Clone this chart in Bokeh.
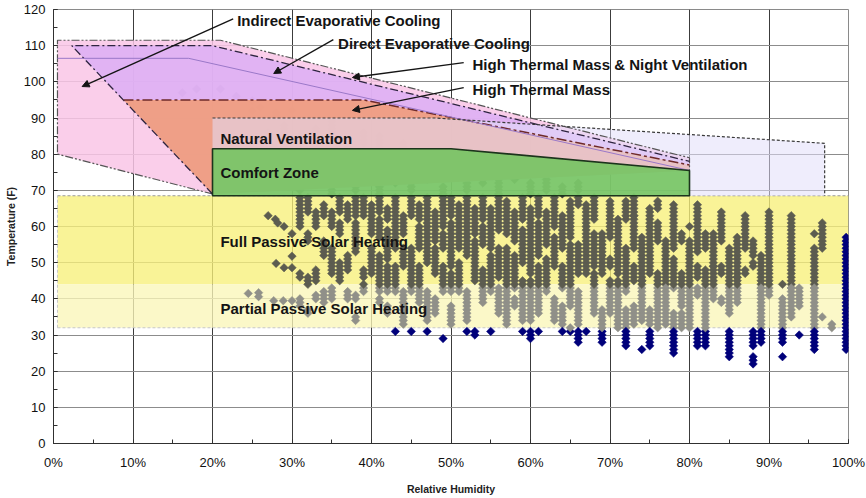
import math
from bokeh.plotting import figure
from bokeh.models import (Range1d, SingleIntervalTicker, PrintfTickFormatter, Label,
                          Arrow, NormalHead, ColumnDataSource)
from bokeh.embed import file_html
from bokeh.resources import INLINE

# ---------------- zone boundaries (relative humidity %, temperature F) ----------------
solar_full_rh = [0.5, 100, 100, 0.5]
solar_full_t = [68.5, 68.5, 44, 44]
solar_part_rh = [0.5, 100, 100, 0.5]
solar_part_t = [44, 44, 32, 32]
natvent_rh = [20, 20, 48, 97, 97]
natvent_t = [68.5, 90, 90, 83, 68.5]
indirect_rh = [20, 0.5, 0.5, 21, 80, 80]
indirect_t = [69, 80, 111.5, 111.5, 79, 75.5]
direct_rh = [20, 2.3, 20, 80, 80]
direct_t = [69, 110, 110, 78, 75.5]
mass_rh = [20, 8.8, 39, 80, 80]
mass_t = [69, 95, 95, 77, 75.5]
comfort_rh = [20, 20, 50, 80, 80]
comfort_t = [68.5, 81.5, 81.5, 75.5, 68.5]
evap_line_rh = [0.5, 17, 80]
evap_line_t = [106.5, 106.5, 75.5]

# ---------------- hourly weather data: columns of readings (RH %, runs of temps F) ----------------
col_rh = [27, 29, 31, 32, 33, 34, 35, 36, 37, 38, 39, 40, 41, 42, 43, 44, 45, 46, 47, 48, 49,
          50, 51, 52, 53, 54, 55, 56, 57, 58, 59, 60, 61, 62, 63, 64, 65, 66, 67, 68, 69,
          70, 71, 72, 73, 74, 75, 76, 77, 78, 79, 80, 81, 82, 83, 84, 85, 86, 87, 88, 89,
          90, 91.7, 92.8, 93.8, 95.7, 96.7, 97.9, 99.7]
col_runs = [
    [(84, 86)],
    [(72, 74), (82, 88)],
    [(70, 78), (83, 85), (60, 68), (46, 47), (38, 40)],
    [(64, 68), (56, 58), (44, 46), (36, 37)],
    [(75, 80), (82, 87), (60, 64), (45, 48), (40, 41)],
    [(63, 66), (52, 56), (39, 42)],
    [(69, 72), (84, 89), (60, 64), (47, 54), (40, 43)],
    [(74, 80), (64, 68), (58, 61), (45, 50)],
    [(82, 84), (62, 66), (48, 52), (40, 42)],
    [(70, 76), (63, 68), (53, 61), (40, 41), (34, 35)],
    [(83, 86), (63, 68), (46, 48), (42, 44)],
    [(77, 80), (58, 66), (51, 54), (47, 50)],
    [(69, 73), (82, 85), (64, 68), (57, 62), (42, 52), (39, 40)],
    [(62, 65), (51, 59), (42, 49), (36, 38)],
    [(72, 79), (54, 68), (42, 49), (31, 31)],
    [(82, 83), (58, 63), (49, 54), (33, 42)],
    [(70, 75), (63, 68), (42, 54), (31, 31)],
    [(62, 66), (54, 60), (39, 49)],
    [(73, 80), (62, 68), (50, 61), (34, 42), (31, 31)],
    [(56, 64), (47, 54), (36, 40)],
    [(69, 71), (60, 68), (54, 58), (42, 49), (29, 29)],
    [(74, 79), (63, 68), (49, 61), (42, 47), (33, 38)],
    [(54, 66), (42, 50)],
    [(70, 76), (63, 68), (52, 62), (34, 42), (31, 31)],
    [(58, 65), (45, 56), (30, 31)],
    [(72, 78), (62, 68), (55, 60), (39, 48)],
    [(54, 65), (42, 52), (31, 31)],
    [(69, 74), (59, 68), (46, 54), (36, 43)],
    [(58, 67), (46, 54), (33, 45)],
    [(73, 77), (56, 64), (43, 52), (38, 40)],
    [(62, 68), (50, 59), (34, 45), (31, 31)],
    [(69, 72), (47, 65), (34, 45), (29, 31)],
    [(63, 68), (52, 61), (36, 49), (31, 31)],
    [(70, 74), (55, 64), (42, 51)],
    [(60, 68), (49, 57), (34, 40)],
    [(69, 71), (54, 63), (43, 49), (33, 38), (31, 31)],
    [(57, 67), (48, 55), (38, 47), (31, 32)],
    [(70, 72), (66, 68), (47, 55), (33, 42), (28, 31)],
    [(52, 66), (47, 51), (31, 31)],
    [(62, 68), (49, 58), (36, 47)],
    [(47, 58), (33, 37), (28, 32)],
    [(57, 67), (49, 51), (36, 45)],
    [(47, 62), (32, 45)],
    [(62, 67), (42, 54), (32, 37), (27, 31)],
    [(63, 68), (54, 63), (45, 49), (33, 38)],
    [(45, 57), (34, 45), (26, 26)],
    [(51, 65), (47, 50), (33, 37), (27, 31)],
    [(65, 67), (56, 61), (32, 47)],
    [(44, 56), (33, 43)],
    [(54, 66), (43, 51), (32, 36), (25, 31)],
    [(56, 58), (38, 47), (32, 36)],
    [(60, 60), (46, 56), (32, 45)],
    [(53, 66), (46, 49), (41, 43), (27, 31)],
    [(54, 58), (46, 48), (27, 45)],
    [(49, 58), (40, 49)],
    [(56, 64), (47, 49), (39, 40)],
    [(46, 54), (36, 45), (24, 31)],
    [(46, 57), (39, 46)],
    [(54, 63), (47, 48)],
    [(52, 56), (49, 50), (27, 31), (22, 24)],
    [(43, 52), (32, 43), (28, 31)],
    [(45, 64), (41, 44)],
    [(44, 44), (32, 40), (28, 31), (24, 24)],
    [(43, 63), (35, 43)],
    [(38, 43), (30, 30)],
    [(58, 58), (43, 54), (32, 43), (26, 31)],
    [(54, 61), (35, 35)],
    [(32, 33)],
    [(26, 57)],
]
# isolated readings
single_rh = [24.5, 25.8, 25.8, 27.7, 28.9, 30, 27, 27.9, 28.2, 29, 28, 29, 30, 30, 30,
             25, 26, 25, 28, 28, 30, 16.2, 18, 21, 23]
single_t = [41.5, 41.7, 40.6, 39.5, 39.5, 39.5, 63, 62, 61, 60, 49.8, 48.6, 48.6, 51.8, 58,
            94.8, 93, 92, 91.5, 90.7, 92, 97, 98, 98, 96]

# ---------------- labels ----------------
zone_labels = ["Natural Ventilation", "Comfort Zone", "Full Passive Solar Heating",
               "Partial Passive Solar Heating"]
zone_label_rh = [21, 21, 21, 21]
zone_label_t = [84.3, 74.9, 55.8, 37.3]
call_labels = ["Indirect Evaporative Cooling", "Direct Evaporative Cooling",
               "High Thermal Mass & Night Ventilation", "High Thermal Mass"]
call_rh = [23.1, 35.8, 52.7, 52.7]
call_t = [116.9, 110.6, 104.8, 97.9]
arrow_rh0 = [22.6, 35.2, 51.6, 51.6]
arrow_t0 = [117.4, 111.7, 105.3, 98.4]
arrow_rh1 = [3.6, 27.7, 37.6, 37.6]
arrow_t1 = [98.7, 102.3, 101.2, 92.1]

FONT = "Liberation Sans"

p = figure(width=866, height=498, output_backend="svg", toolbar_location=None,
           x_range=Range1d(0, 100), y_range=Range1d(0, 120),
           min_border_left=53, min_border_right=18, min_border_top=9, min_border_bottom=55)
p.background_fill_color = "white"
p.border_fill_color = "white"
p.outline_line_color = "#8a8a8a"

# axes
p.xaxis.ticker = SingleIntervalTicker(interval=10, num_minor_ticks=2)
p.yaxis.ticker = SingleIntervalTicker(interval=10, num_minor_ticks=2)
p.xaxis.formatter = PrintfTickFormatter(format="%d%%")
for ax in (p.xaxis[0], p.yaxis[0]):
    ax.major_tick_out = 0
    ax.major_tick_in = 4
    ax.minor_tick_out = 0
    ax.minor_tick_in = 4
    ax.axis_line_color = "#303030"
    ax.major_tick_line_color = "#303030"
    ax.minor_tick_line_color = "#303030"
    ax.major_label_text_font = FONT
    ax.major_label_text_font_size = "13px"
    ax.major_label_text_color = "#111111"
    ax.axis_label_text_font = FONT
    ax.axis_label_text_font_style = "bold"
    ax.axis_label_text_font_size = "10.5px"
    ax.axis_label_text_color = "#222222"
p.xaxis.axis_label = "Relative Humidity"
p.yaxis.axis_label = "Temperature (F)"
p.xaxis.major_label_standoff = 11
p.xaxis.axis_label_standoff = 10
p.yaxis.major_label_standoff = 8
p.yaxis.axis_label_standoff = 4
p.xgrid.grid_line_color = "#3c3c3c"
p.ygrid.grid_line_color = "#8c8c8c"
p.xgrid.grid_line_width = 1
p.ygrid.grid_line_width = 1

# solar heating zones
p.patch(solar_full_rh, solar_full_t, fill_color="#f7ef7a", fill_alpha=0.78, line_color=None)
p.patch(solar_part_rh, solar_part_t, fill_color="#faf6b8", fill_alpha=0.78, line_color=None)
p.line([0.5, 100], [68.5, 68.5], line_color="#9a9a9a", line_dash="3 2", line_width=1)
p.line([0.5, 100], [32, 32], line_color="#c8c8c8", line_dash="3 2", line_width=1)
p.line([0.5, 0.5], [32, 68.5], line_color="#c8c8c8", line_dash="3 2", line_width=1)

# weather readings
xs, ys, cs = [], [], []
def tint(rh, t):
    if rh >= 99 or t < 32:
        return "#00007a"
    if t < 44:
        return "#909089"
    if t <= 68.5:
        return "#5c5c50"
    return "#3a3a3a"
for rh, runs in zip(col_rh, col_runs):
    for lo, hi in runs:
        for t in range(lo, hi + 1):
            xs.append(rh); ys.append(t); cs.append(tint(rh, t))
for rh, t in zip(single_rh, single_t):
    xs.append(rh); ys.append(t); cs.append(tint(rh, t))
src = ColumnDataSource(dict(x=xs, y=ys, c=cs))
p.scatter("x", "y", source=src, marker="square", angle=math.pi / 4, size=6,
          fill_color="c", line_color="c", line_width=0.5)

# cooling / ventilation zones
p.patch(indirect_rh, indirect_t, fill_color="#f9c6e6", fill_alpha=0.85, line_color=None)
p.patch(direct_rh, direct_t, fill_color="#dcaef4", fill_alpha=0.85, line_color=None)
p.patch(mass_rh, mass_t, fill_color="#f09c78", fill_alpha=0.88, line_color=None)
p.patch(natvent_rh, natvent_t, fill_color="#e2defa", fill_alpha=0.55, line_color=None)

# zone outlines (open paths, the lower edges are hidden behind the comfort zone)
p.line(indirect_rh, indirect_t, line_color="#555555", line_dash="8 2 2 2 2 2", line_width=1.2)
p.line(direct_rh[:4], direct_t[:4], line_color="#2e2440", line_dash="8 3 2 3", line_width=1.3)
p.line(mass_rh[1:4], mass_t[1:4], line_color="#6e2a2a", line_dash="10 3 3 3", line_width=1.5)
p.line(evap_line_rh, evap_line_t, line_color="#9a78c8", line_width=1)
p.line(natvent_rh[1:], natvent_t[1:], line_color="#3a3a3a", line_dash="3 2", line_width=1.2)

p.patch(comfort_rh, comfort_t, fill_color="#74c460", fill_alpha=0.9, line_color="#1c341c",
        line_width=1.6)

# labels
for txt, x, y in zip(zone_labels, zone_label_rh, zone_label_t):
    p.add_layout(Label(x=x, y=y, text=txt, text_font=FONT, text_font_style="bold",
                       text_font_size="15px", text_color="#141414", text_baseline="middle"))
for txt, x, y in zip(call_labels, call_rh, call_t):
    p.add_layout(Label(x=x, y=y, text=txt, text_font=FONT, text_font_style="bold",
                       text_font_size="15px", text_color="#141414", text_baseline="middle"))
for x0, y0, x1, y1 in zip(arrow_rh0, arrow_t0, arrow_rh1, arrow_t1):
    p.add_layout(Arrow(end=NormalHead(size=7, fill_color="#141414", line_color="#141414"),
                       x_start=x0, y_start=y0, x_end=x1, y_end=y1,
                       line_color="#141414", line_width=1.4))

open("out.html", "w").write(file_html(p, INLINE))
